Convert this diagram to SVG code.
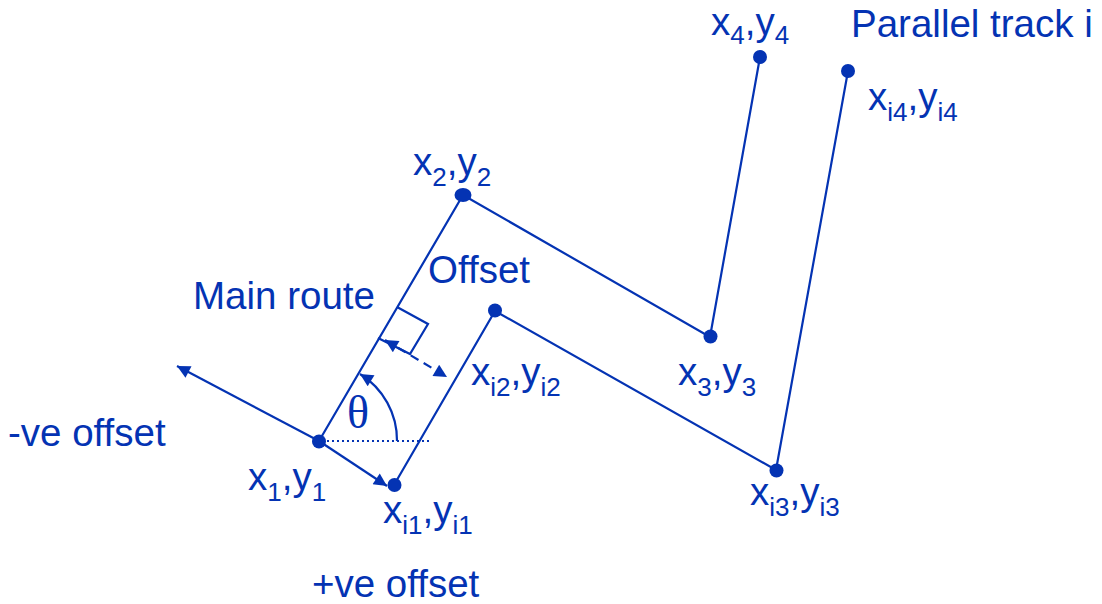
<svg xmlns="http://www.w3.org/2000/svg" width="1102" height="604" viewBox="0 0 1102 604">
<style>
text{font-family:"Liberation Sans",Arial,sans-serif;font-size:38.5px;fill:#0433B3}
.sub{font-size:26px}
.ln{stroke:#0433B3;stroke-width:2.2;fill:none}
.dot{fill:#0433B3}
</style>
<defs>
<marker id="ah" viewBox="0 0 10 10" refX="10" refY="5" markerWidth="17" markerHeight="13" markerUnits="userSpaceOnUse" orient="auto-start-reverse">
<path d="M0,0 L10,5 L0,10 z" fill="#0433B3"/>
</marker>
</defs>
<rect width="1102" height="604" fill="#fff"/>
<g id="connectors">
<polyline class="ln" points="319,441 463,195 710,337 760,57"/>
<polyline class="ln" points="394,485 495,311 776,470 848,71"/>
<line class="ln" x1="319" y1="441" x2="177" y2="366" marker-end="url(#ah)"/>
<line class="ln" x1="319" y1="441" x2="387" y2="486" marker-end="url(#ah)"/>
<line class="ln" x1="322" y1="441" x2="430" y2="441" stroke-dasharray="2,3"/>
<path class="ln" d="M397,441 A78,78 0 0 0 360,374" marker-end="url(#ah)"/>
<polyline class="ln" points="397,307 428,324 410,354 378,338"/>
<line class="ln" x1="385" y1="340" x2="447" y2="377" stroke-dasharray="9,6" marker-start="url(#ah)" marker-end="url(#ah)"/>
</g>
<g id="p1"><circle class="dot" cx="319" cy="441.5" r="7"/><text x="248" y="490">x<tspan class="sub" dy="11">1</tspan><tspan dy="-11">,y</tspan><tspan class="sub" dy="11">1</tspan></text></g>
<g id="p2"><ellipse class="dot" cx="463" cy="195" rx="8.5" ry="7"/><text x="413" y="175">x<tspan class="sub" dy="11">2</tspan><tspan dy="-11">,y</tspan><tspan class="sub" dy="11">2</tspan></text></g>
<g id="p3"><circle class="dot" cx="710.5" cy="336.5" r="7"/><text x="678" y="385">x<tspan class="sub" dy="11">3</tspan><tspan dy="-11">,y</tspan><tspan class="sub" dy="11">3</tspan></text></g>
<g id="p4"><circle class="dot" cx="760" cy="57" r="7"/><text x="711" y="35">x<tspan class="sub" dy="9">4</tspan><tspan dy="-9">,y</tspan><tspan class="sub" dy="9">4</tspan></text></g>
<g id="pi1"><circle class="dot" cx="394.5" cy="485" r="7"/><text x="383" y="523">x<tspan class="sub" dy="11">i1</tspan><tspan dy="-11">,y</tspan><tspan class="sub" dy="11">i1</tspan></text></g>
<g id="pi2"><circle class="dot" cx="495" cy="310.5" r="7"/><text x="471" y="385">x<tspan class="sub" dy="11">i2</tspan><tspan dy="-11">,y</tspan><tspan class="sub" dy="11">i2</tspan></text></g>
<g id="pi3"><circle class="dot" cx="776.5" cy="470.5" r="7"/><text x="750" y="505">x<tspan class="sub" dy="11">i3</tspan><tspan dy="-11">,y</tspan><tspan class="sub" dy="11">i3</tspan></text></g>
<g id="pi4"><circle class="dot" cx="848" cy="71" r="7"/><text x="868" y="110">x<tspan class="sub" dy="11">i4</tspan><tspan dy="-11">,y</tspan><tspan class="sub" dy="11">i4</tspan></text></g>
<g id="labels">
<text x="851" y="37">Parallel track i</text>
<text x="193" y="309">Main route</text>
<text x="428" y="283">Offset</text>
<text x="8" y="446">-ve offset</text>
<text x="312" y="597">+ve offset</text>
<text x="358" y="428" text-anchor="middle" style="font-family:'Liberation Serif','Times New Roman',serif;font-size:46px">θ</text>
</g>
</svg>
